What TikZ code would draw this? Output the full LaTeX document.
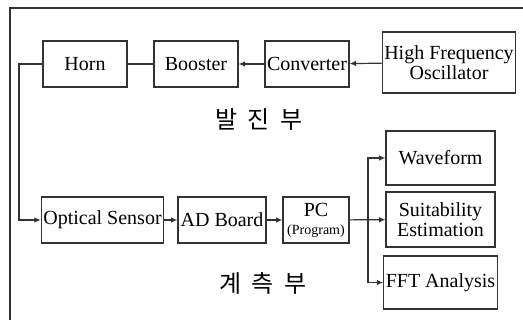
\documentclass[tikz,border=0pt]{standalone}
\usepackage{fontspec}
\setmainfont{Liberation Serif}
\newfontfamily\kofont{Noto Sans CJK KR}
\usepackage{tikz}
\usetikzlibrary{positioning}
\usetikzlibrary{arrows.meta}
\colorlet{linecol}{black!80}
\tikzset{>={Latex[length=3.2pt,width=2.8pt]}}
\tikzset{block/.style={draw=linecol, line width=0.6pt, minimum height=23pt,
    inner sep=1pt, align=center, font=\normalsize}}
\tikzset{wire/.style={draw=linecol, line width=0.6pt}}

\begin{document}
\begin{tikzpicture}[x=0.5pt, y=-0.5pt]
  \useasboundingbox (0,0) rectangle (523,320);

  % outer frame, cut by the page edge
  \draw[wire] (10,330) |- (533,8);

  % oscillation part
  \node[block, minimum width=42pt] (horn) at (85,64) {Horn};
  \node[block, minimum width=42pt] (booster) at (196,64) {Booster};
  \node[block, minimum width=42pt] (conv) at (307,64) {Converter};
  \node[block, minimum width=63pt, minimum height=30.5pt] (osc) at (449,62.5)
    {High Frequency\\[-2pt]Oscillator};
  \node (osclabel) at (259,120) {\kofont\large 발\ \ 진\ \ 부};

  \draw[wire] (horn) -- (booster);
  \draw[wire, ->] (conv) -- (booster);
  \draw[wire, ->] (osc) -- (conv);

  % measurement part
  \node[block, minimum width=59.5pt] (sensor) at (102.5,220) {Optical Sensor};
  \node[block, minimum width=44pt] (adboard) at (222,220) {AD Board};
  \node[block, minimum width=33pt] (pc) at (316,220)
    {PC\\[-3pt]{\scriptsize (Program)}};
  \node[block, minimum width=54.5pt, minimum height=27pt] (wave) at (440.5,158) {Waveform};
  \node[block, minimum width=54.5pt, minimum height=27.5pt] (suit) at (440.5,219.5)
    {Suitability\\[-2pt]Estimation};
  \node[block, minimum width=54.5pt, minimum height=26.5pt] (fft) at (440.5,282.5) {FFT Analysis};
  \node (measlabel) at (263,283) {\kofont\large 계\ \ 측\ \ 부};

  \coordinate (turn) at (19,64);
  \coordinate (split) at (368,220);
  \draw[wire, ->] (horn.west) -- (turn) |- (sensor.west);
  \draw[wire, ->] (sensor) -- (adboard);
  \draw[wire, ->] (adboard) -- (pc);
  \draw[wire, ->] (pc) -- (suit);
  \draw[wire, ->] (split) |- (wave.west);
  \draw[wire, ->] (split) |- (fft.west);

\end{tikzpicture}
\end{document}
